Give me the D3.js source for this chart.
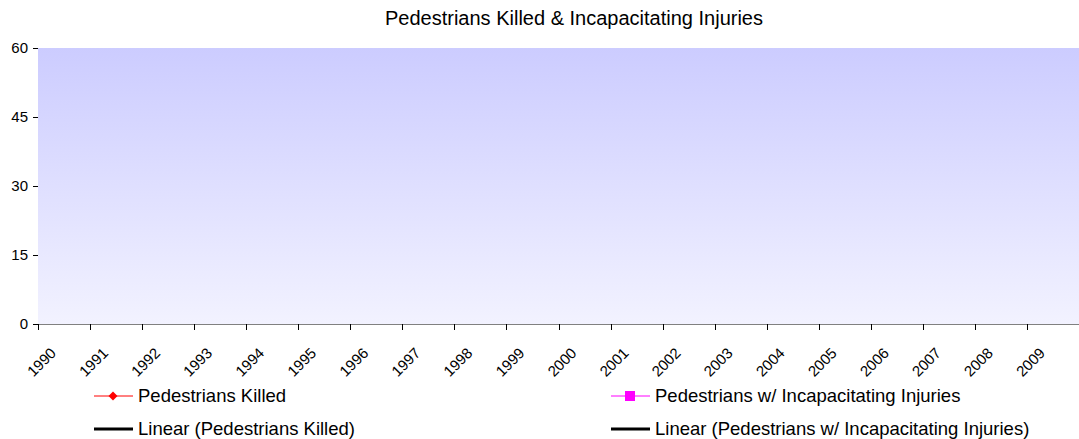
<!DOCTYPE html>
<html>
<head>
<meta charset="utf-8">
<script src="https://cdn.jsdelivr.net/npm/d3@7"></script>
<style>
  body { margin: 0; background: #fff; font-family: "Liberation Sans", Arial, sans-serif; }
  text { fill: #000; }
</style>
</head>
<body>
<div id="chart"></div>
<script>
const years = ["1990","1991","1992","1993","1994","1995","1996","1997","1998","1999",
               "2000","2001","2002","2003","2004","2005","2006","2007","2008","2009"];
// no values are visible in the plot area of the reference
const killed = years.map(() => null);
const injuries = years.map(() => null);
const yTicks = [0, 15, 30, 45, 60];
const legendItems = ["Pedestrians Killed", "Pedestrians w/ Incapacitating Injuries",
                     "Linear (Pedestrians Killed)", "Linear (Pedestrians w/ Incapacitating Injuries)"];

const width = 1079, height = 439;
const plotL = 38, plotR = 1079, plotT = 48, plotB = 324;

const svg = d3.select("#chart").append("svg")
  .attr("width", width).attr("height", height);

const defs = svg.append("defs");
const grad = defs.append("linearGradient").attr("id", "bg")
  .attr("x1", 0).attr("y1", 0).attr("x2", 0).attr("y2", 1);
grad.append("stop").attr("offset", "0%").attr("stop-color", "#ccccff");
grad.append("stop").attr("offset", "100%").attr("stop-color", "#f2f2ff");

const x = d3.scaleBand().domain(years).range([plotL, plotR]).padding(0);
const y = d3.scaleLinear().domain([0, 60]).range([plotB, plotT]);

svg.append("rect")
  .attr("x", plotL).attr("y", plotT)
  .attr("width", plotR - plotL).attr("height", plotB - plotT)
  .attr("fill", "url(#bg)");

svg.append("text")
  .attr("x", 574).attr("y", 25)
  .attr("text-anchor", "middle")
  .style("font-size", "20px")
  .text("Pedestrians Killed & Incapacitating Injuries");

// y axis: ticks and labels only
const yAxis = d3.axisLeft(y).tickValues(yTicks).tickSize(5).tickPadding(5);
const gy = svg.append("g").attr("transform", `translate(${plotL},0)`).call(yAxis);
gy.select(".domain").remove();
gy.selectAll(".tick line").attr("stroke", "#000");
gy.selectAll(".tick text").style("font-size", "15px").style("font-family", "Liberation Sans, Arial, sans-serif");

// x axis line + ticks between categories
svg.append("line")
  .attr("x1", plotL).attr("x2", plotR).attr("y1", plotB + 0.5).attr("y2", plotB + 0.5)
  .attr("stroke", "#808080");
const edges = years.map(d => x(d)).concat([plotR]);
svg.append("g").selectAll("line").data(edges).enter().append("line")
  .attr("x1", d => Math.round(d) + 0.5).attr("x2", d => Math.round(d) + 0.5)
  .attr("y1", plotB).attr("y2", plotB + 6)
  .attr("stroke", "#000");

svg.append("g").selectAll("text").data(years).enter().append("text")
  .attr("text-anchor", "end")
  .attr("transform", d => `translate(${x(d) + x.bandwidth() / 2 - 7},${plotB + 30}) rotate(-45)`)
  .style("font-size", "15px")
  .text(d => d);

// series lines (drawn only where values exist)
const line = d3.line()
  .defined(d => d[1] != null)
  .x(d => x(d[0]) + x.bandwidth() / 2)
  .y(d => y(d[1]));
[[killed, "#ff0000"], [injuries, "#ff00ff"]].forEach(([vals, c]) => {
  svg.append("path")
    .datum(years.map((yr, i) => [yr, vals[i]]))
    .attr("fill", "none").attr("stroke", c).attr("d", line);
});

// legend
const legend = svg.append("g");
const pos = [[94, 396], [611, 396], [94, 429], [611, 429]];
legendItems.forEach((t, i) => {
  const [lx, ly] = pos[i];
  const g = legend.append("g").attr("transform", `translate(${lx},${ly})`);
  const col = i === 0 ? "#ff0000" : i === 1 ? "#ff00ff" : "#000";
  g.append("line").attr("x1", 0).attr("x2", 39).attr("y1", 0).attr("y2", 0)
    .attr("stroke", col).attr("stroke-width", i < 2 ? 1 : 3);
  if (i === 0) {
    g.append("path").attr("d", d3.symbol(d3.symbolSquare, 40)()).attr("transform", "translate(19,0) rotate(45)").attr("fill", col);
  } else if (i === 1) {
    g.append("rect").attr("x", 14).attr("y", -5).attr("width", 10).attr("height", 10).attr("fill", col);
  }
  g.append("text").attr("x", 44).attr("y", 5.5).style("font-size", "18.5px").text(t);
});
</script>
</body>
</html>
